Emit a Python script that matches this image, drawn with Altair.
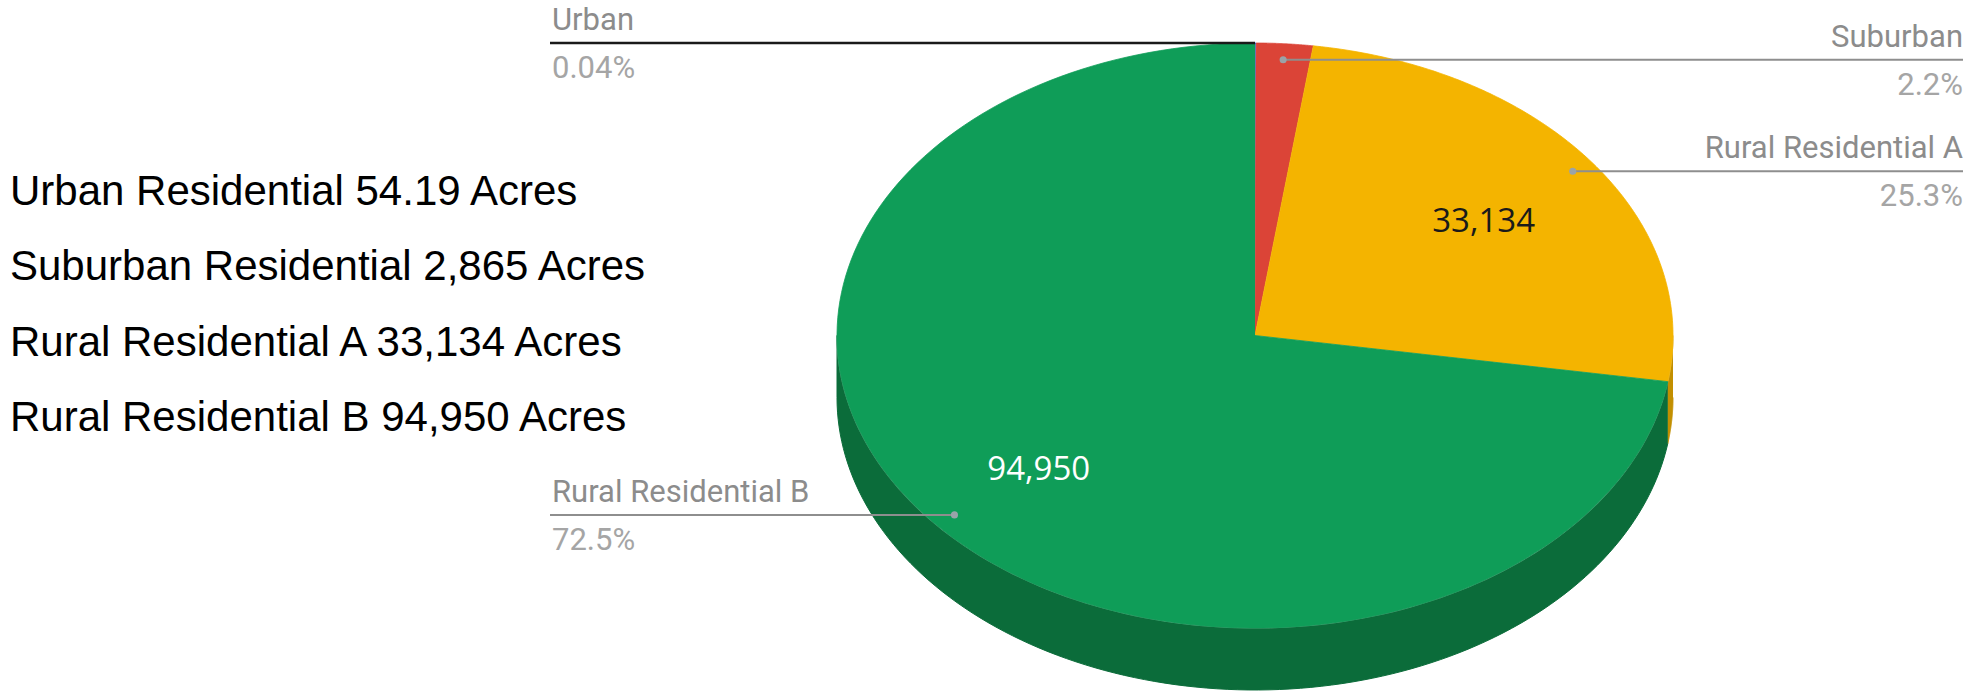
import altair as alt
import pandas as pd

# ---------------- data ----------------
categories = ["Urban Residential", "Suburban Residential", "Rural Residential A", "Rural Residential B"]
short_names = ["Urban", "Suburban", "Rural Residential A", "Rural Residential B"]
acres = [54.19, 2865, 33134, 94950]
pct_labels = ["0.04%", "2.2%", "25.3%", "72.5%"]

# ---------------- styles / layout ----------------
top_colors = ["#4285F4", "#DB4437", "#F4B400", "#0F9D58"]
wall_colors = ["#2b5cb3", "#9e3028", "#c28f00", "#0B6C3A"]
label_side = ["left", "right", "right", "left"]

W, H = 1984, 693
CX, CY, RX, RY, DEPTH = 1255, 335.5, 418, 292.5, 62
DOT_R = 0.945
VALUE_R = 0.68
LEFT_X, RIGHT_X = 550, 1963
N = 160   # points per top sector
M = 120   # points per wall edge

df = pd.DataFrame({
    "idx": list(range(len(categories))),
    "category": categories,
    "short": short_names,
    "acres": acres,
    "pct": pct_labels,
    "side": label_side,
})

xs = alt.Scale(domain=[0, W], nice=False, zero=False)
ys = alt.Scale(domain=[0, H], nice=False, zero=False, reverse=True)

def X(f):
    return alt.X(f, scale=xs, axis=None)

def Y(f):
    return alt.Y(f, scale=ys, axis=None)

base = alt.Chart(df).transform_joinaggregate(
    total="sum(acres)"
).transform_window(
    cum="sum(acres)", sort=[alt.SortField("idx", order="ascending")], frame=[None, 0]
).transform_calculate(
    a0="2*PI*(datum.cum - datum.acres)/datum.total",
    a1="2*PI*datum.cum/datum.total",
    frac="datum.acres/datum.total",
)

# ---- side wall (front half of the pie) ----
wall_base = base.transform_calculate(
    w0="max(datum.a0, PI/2)", w1="min(datum.a1, 3*PI/2)"
).transform_filter("datum.w1 > datum.w0").transform_calculate(
    k=f"sequence(0, {2 * M})"
).transform_flatten(["k"]).transform_calculate(
    ang=f"datum.k < {M} ? datum.w0 + (datum.w1 - datum.w0) * datum.k / {M - 1} "
        f": datum.w1 - (datum.w1 - datum.w0) * (datum.k - {M}) / {M - 1}",
).transform_calculate(
    px=f"{CX} + {RX} * sin(datum.ang)",
    py=f"{CY} - {RY} * cos(datum.ang) + (datum.k < {M} ? 0 : {DEPTH})",
)

wall_scale = alt.Scale(domain=categories, range=wall_colors)
wall = wall_base.mark_line(filled=True, strokeWidth=1).encode(
    x=X("px:Q"), y=Y("py:Q"), order="k:Q", detail="category:N",
    fill=alt.Fill("category:N", scale=wall_scale, legend=None),
    stroke=alt.Stroke("category:N", scale=wall_scale, legend=None),
)

edge = wall_base.transform_filter(f"datum.k < {M}").mark_line(
    strokeWidth=1.2, color="#ffffff", strokeOpacity=0.3
).encode(x=X("px:Q"), y=Y("py:Q"), order="k:Q", detail="category:N")

# ---- top face ----
top_scale = alt.Scale(domain=categories, range=top_colors)
top = base.transform_calculate(
    k=f"sequence(0, {N + 2})"
).transform_flatten(["k"]).transform_calculate(
    ang=f"datum.a0 + (datum.a1 - datum.a0) * (datum.k - 1) / {N}",
).transform_calculate(
    px=f"datum.k == 0 ? {CX} : {CX} + {RX} * sin(datum.ang)",
    py=f"datum.k == 0 ? {CY} : {CY} - {RY} * cos(datum.ang)",
).mark_line(filled=True, strokeWidth=0.8).encode(
    x=X("px:Q"), y=Y("py:Q"), order="k:Q", detail="category:N",
    color=alt.Color("category:N", scale=top_scale, legend=None),
    stroke=alt.Stroke("category:N", scale=top_scale, legend=None),
)

# ---- leader lines, dots and labels ----
lab = base.transform_calculate(
    mid="(datum.a0 + datum.a1) / 2",
    r=f"datum.idx == 0 ? 1 : {DOT_R}",
).transform_calculate(
    dx=f"datum.idx == 0 ? {CX} : {CX} + {RX} * datum.r * sin(datum.mid)",
    dy=f"{CY} - {RY} * datum.r * cos(datum.mid)",
    ex=f"datum.side == 'left' ? {LEFT_X} : {RIGHT_X}",
    vx=f"{CX} + {RX} * {VALUE_R} * sin(datum.mid)",
    vy=f"{CY} - {RY} * {VALUE_R} * cos(datum.mid)",
    vtxt="format(datum.acres, ',')",
).transform_calculate(
    ny="datum.dy - 22",
    py2="datum.dy + 26",
)

rules = lab.mark_rule().encode(
    x=X("dx:Q"), x2="ex:Q", y=Y("dy:Q"),
    color=alt.condition("datum.idx == 0", alt.value("#1a1a1a"), alt.value("#8e8e8e")),
    strokeWidth=alt.condition("datum.idx == 0", alt.value(2.5), alt.value(2)),
)

dots = lab.transform_filter("datum.idx > 0").mark_circle(
    size=50, color="#9aa3a8", opacity=1
).encode(x=X("dx:Q"), y=Y("dy:Q"))

FONT_LBL = "Roboto"
LBL_SIZE = 31

def side_text(side, align, field, yfield, color):
    dxo = 2 if side == "left" else 0
    return lab.transform_filter(f"datum.side == '{side}'").mark_text(
        align=align, baseline="middle", font=FONT_LBL, fontSize=LBL_SIZE,
        color=color, dx=dxo,
    ).encode(x=X("ex:Q"), y=Y(f"{yfield}:Q"), text=f"{field}:N")

labels = [
    side_text("left", "left", "short", "ny", "#8c8c8c"),
    side_text("left", "left", "pct", "py2", "#a5a5a5"),
    side_text("right", "right", "short", "ny", "#8c8c8c"),
    side_text("right", "right", "pct", "py2", "#a5a5a5"),
]

values = lab.transform_filter("datum.frac > 0.1").mark_text(
    align="center", baseline="middle", font="Open Sans", fontSize=33, dy=5,
).encode(
    x=X("vx:Q"), y=Y("vy:Q"), text="vtxt:N",
    color=alt.condition("datum.idx == 2", alt.value("#1a1a1a"), alt.value("#ffffff")),
)

# ---- left text block ----
block = alt.Chart(df).transform_calculate(
    line="datum.category + ' ' + format(datum.acres, ',') + ' Acres'",
    ly="192 + datum.idx * 75.3",
    lx="10",
).mark_text(
    align="left", baseline="middle", font="Liberation Sans", fontSize=42, color="#000000",
).encode(x=X("lx:Q"), y=Y("ly:Q"), text="line:N")

chart = alt.layer(
    wall, edge, top, rules, dots, *labels, values, block
).resolve_scale(
    color="independent", fill="independent", stroke="independent"
).properties(
    width=W, height=H, padding=0, autosize=alt.AutoSizeParams(type="none"),
).configure_view(stroke=None)

chart.save("out.html", embed_options={"renderer": "svg", "actions": False})
